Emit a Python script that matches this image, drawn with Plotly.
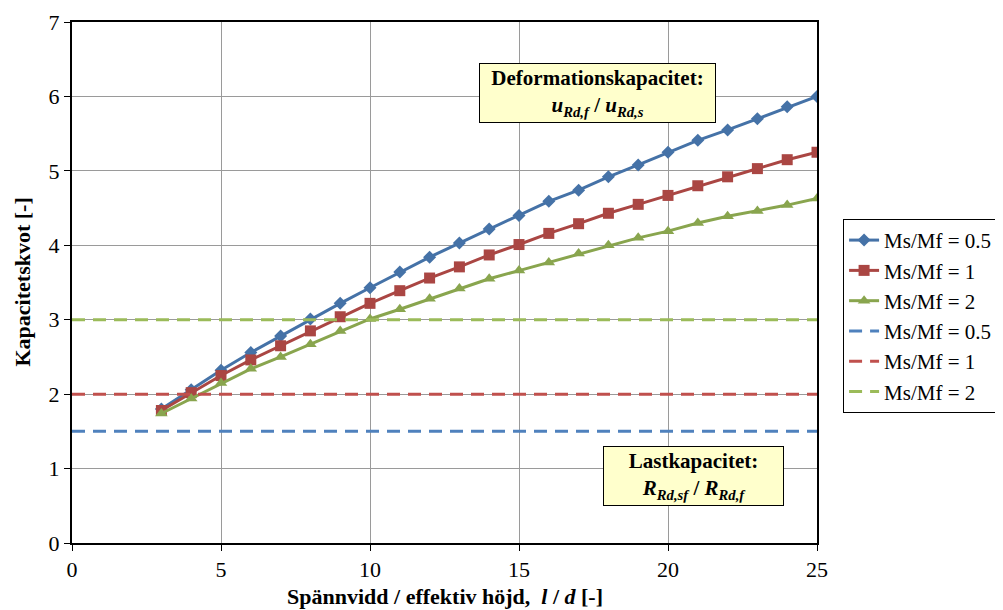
import plotly.graph_objects as go

x_vals = list(range(3, 26))
ratio_05 = [1.80, 2.06, 2.32, 2.56, 2.78, 3.01, 3.22, 3.43, 3.64, 3.84, 4.03, 4.22, 4.40, 4.59, 4.74, 4.92,
            5.08, 5.25, 5.41, 5.55, 5.70, 5.86, 6.00]
ratio_1 = [1.78, 2.02, 2.25, 2.46, 2.65, 2.85, 3.04, 3.22, 3.39, 3.56, 3.71, 3.87, 4.01, 4.16, 4.29, 4.43,
           4.55, 4.67, 4.80, 4.92, 5.03, 5.15, 5.25]
ratio_2 = [1.74, 1.94, 2.15, 2.34, 2.50, 2.67, 2.85, 3.01, 3.14, 3.28, 3.42, 3.55, 3.66, 3.77, 3.89, 4.00,
           4.10, 4.19, 4.30, 4.39, 4.46, 4.54, 4.63]
limit_x = [0, 25]
limit_05 = [1.5, 1.5]
limit_1 = [2.0, 2.0]
limit_2 = [3.0, 3.0]
names = ["Ms/Mf = 0.5", "Ms/Mf = 1", "Ms/Mf = 2"]

FONT = "Liberation Serif, Times New Roman, serif"
solid_cols = ["#4572A7", "#AA4643", "#89A54E"]
dash_cols = ["#4F81BD", "#C0504D", "#9BBB59"]
symbols = ["diamond", "square", "triangle-up"]
msizes = [10, 11, 11]

fig = go.Figure()
for ys, nm, c, s, ms in zip([ratio_05, ratio_1, ratio_2], names, solid_cols, symbols, msizes):
    fig.add_trace(go.Scatter(x=x_vals, y=ys, name=nm, mode="lines+markers",
                             line=dict(color=c, width=3),
                             marker=dict(symbol=s, size=ms, color=c)))
for ys, nm, c in zip([limit_05, limit_1, limit_2], names, dash_cols):
    fig.add_trace(go.Scatter(x=limit_x, y=ys, name=nm, mode="lines",
                             line=dict(color=c, width=3, dash="13px,8px")))

fig.add_annotation(x=17.65, y=6.05, xref="x", yref="y",
                   text="<b>Deformationskapacitet:</b><br><b><i>u<sub>Rd,f</sub></i> / <i>u<sub>Rd,s</sub></i></b>",
                   showarrow=False, bgcolor="#FFFFCC", bordercolor="black", borderwidth=1,
                   borderpad=2, width=231, font=dict(family=FONT, size=21, color="black"), align="center")
fig.add_annotation(x=20.86, y=0.9, xref="x", yref="y",
                   text="<b>Lastkapacitet:</b><br><b><i>R<sub>Rd,sf</sub></i> / <i>R<sub>Rd,f</sub></i></b>",
                   showarrow=False, bgcolor="#FFFFCC", bordercolor="black", borderwidth=1,
                   borderpad=2, width=175, font=dict(family=FONT, size=21, color="black"), align="center")

# axis titles as annotations for precise placement
fig.add_annotation(x=0.5, y=0, xref="paper", yref="paper", yanchor="middle", yshift=-53,
                   text="<b>Spännvidd / effektiv höjd,  <i>l</i> / <i>d</i> [-]</b>",
                   showarrow=False, font=dict(family=FONT, size=22, color="black"))
fig.add_annotation(x=0, y=0.5, xref="paper", yref="paper", xanchor="center", xshift=-50,
                   text="<b>Kapacitetskvot [-]</b>", textangle=-90,
                   showarrow=False, font=dict(family=FONT, size=22, color="black"))

fig.update_layout(
    width=995, height=602,
    margin=dict(l=64, r=186, t=14, b=67, autoexpand=False),
    paper_bgcolor="white", plot_bgcolor="white",
    font=dict(family=FONT, size=22, color="black"),
    showlegend=True,
    legend=dict(x=1.035, y=0.622, xanchor="left", yanchor="top",
                bordercolor="black", borderwidth=1, bgcolor="white", itemwidth=30,
                font=dict(family=FONT, size=21)),
    xaxis=dict(range=[0, 25], tickvals=[0, 5, 10, 15, 20, 25], showgrid=True, gridcolor="#9A9A9A",
               gridwidth=1, showline=True, linecolor="black", linewidth=2, mirror=True,
               ticks="outside", ticklen=6, tickcolor="black", zeroline=False, automargin=False,
               tickfont=dict(family=FONT, size=22)),
    yaxis=dict(range=[0, 7], tickvals=[0, 1, 2, 3, 4, 5, 6, 7], showgrid=True, gridcolor="#9A9A9A",
               gridwidth=1, showline=True, linecolor="black", linewidth=2, mirror=True,
               ticks="outside", ticklen=6, tickcolor="black", zeroline=False, automargin=False,
               tickfont=dict(family=FONT, size=22)),
)

fig.write_html("out.html")
